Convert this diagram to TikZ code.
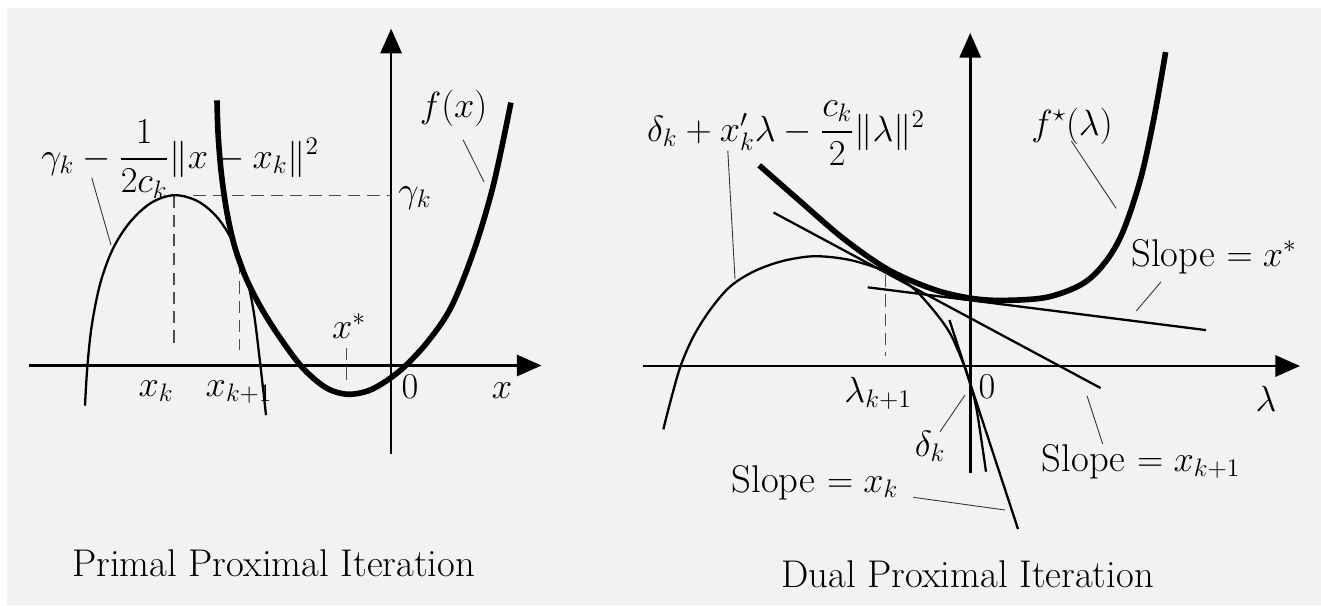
\documentclass[tikz,border=0pt]{standalone}
\usepackage{amsmath,amssymb}
\usepackage{tikz}
\usetikzlibrary{arrows.meta,positioning,calc}
\definecolor{proxBack}{HTML}{F2F2F2}
\definecolor{proxGuide}{HTML}{4D4D4D}
\definecolor{proxLead}{HTML}{333333}

\begin{document}
\begin{tikzpicture}[x=0.02cm,y=-0.02cm,font=\fontsize{20}{24}\selectfont,
  axisline/.style={line width=1.5pt,-{Triangle[length=14pt,width=12pt]}},
  thickcurve/.style={line width=3.2pt},
  thincurve/.style={line width=1.3pt},
  guideline/.style={draw=proxGuide,line width=0.7pt,dash pattern=on 7pt off 4pt},
  leaderline/.style={draw=proxLead,line width=0.5pt},
  lbl/.style={inner sep=0pt,anchor=base},
  txt/.style={lbl,font=\fontsize{22}{26}\selectfont}]
% background
\fill[white] (0,0) rectangle (1321,605);
\fill[proxBack] (7,8) rectangle (1321,605);

%% primal iteration
\draw[axisline] (28.7,365.5) -- (541.5,365.5);
\draw[axisline] (391.1,453.5) -- (391.1,28.7);
\coordinate (peakK) at (174.1,195.2);
\draw[guideline] (peakK) -- (391.1,195.2);
\draw[guideline] (peakK) -- (174.1,348);
\draw[guideline] (239.2,262) -- (239.2,350);
\draw[guideline] (346.3,348) -- (346.3,383);
\draw[thincurve] plot[smooth,tension=0.55] coordinates {(85,405.7) (87.3,367.4) (91.8,325.3)
  (100.3,283.2) (112.9,248.8) (130.1,222) (151.2,202.8) (174.1,195.2) (197.1,200.9)
  (216.2,216.2) (231.5,239.2) (244.9,271.7) (253.4,310) (260.2,363.6) (266,415.2)};
\draw[thickcurve] plot[smooth,tension=0.55] coordinates {(217,100.3) (218.1,134) (221.2,172.2)
  (226.6,210.5) (234.2,244.9) (244.9,275.5) (260.2,306.2) (279.4,336.8) (302.3,367.4)
  (325.3,387.3) (346.3,394.2) (367.4,391.1) (386.5,380.8) (405.7,365.5) (428.6,340.6)
  (451.6,306.2) (474.5,248.8) (493.7,183.7) (510.9,102.6)};
\node[lbl] (primalModel) at (180,168) {$\gamma_k-\dfrac{1}{2c_k}\|x-x_k\|^2$};
\node[lbl] (fx) at (453.6,117) {$f(x)$};
\node[lbl] (gammaK) at (415,202) {$\gamma_k$};
\node[lbl] (xk) at (156,396) {$x_k$};
\node[lbl] (xkNext) at (239,396) {$x_{k+1}$};
\node[lbl] (xStar) at (349,338.7) {$x^*$};
\node[lbl] (zeroP) at (410,398) {$0$};
\node[lbl] (xAxis) at (502,398) {$x$};
\node[txt] (primalCap) at (273.6,576) {Primal Proximal Iteration};
\coordinate (pmA) at (91.8,178); \coordinate (pmB) at (111,245);
\draw[leaderline] (pmA) -- (pmB);
\coordinate (fxA) at (463,139.7); \coordinate (fxB) at (484,181.8);
\draw[leaderline] (fxA) -- (fxB);

%% dual iteration
\draw[axisline] (642.5,366) -- (1300,366);
\draw[axisline] (970.2,473) -- (970.2,33);
\draw[guideline] (885.5,275) -- (885.5,356);
\draw[thincurve] (773.5,212.5) -- (1100.5,388);
\draw[thincurve] (867.7,287.3) -- (1206,330.1);
\draw[thincurve] (949.4,320) -- (1018,529);
\draw[thincurve] plot[smooth,tension=0.55] coordinates {(663.3,429.3) (671.7,396.7)
  (680.7,365.7) (693.3,336.7) (710,310) (730,286.7) (753.3,271.7) (780,261.7)
  (806.7,256.7) (826.7,256.7) (850,260) (873.3,266.7) (893.3,275) (913.3,288.3)
  (933.3,310) (950,333.3) (963.3,363.3) (970,383.3) (976.7,410) (986,471.7)};
\draw[thickcurve] plot[smooth,tension=0.55] coordinates {(759.2,165.3) (799.6,200.8)
  (844.5,239.4) (889.4,270.3) (934.3,289.6) (970.2,298.1) (1001.7,300.4) (1046.6,297.3)
  (1082.5,283.8) (1105,262.5) (1122.9,231.7) (1140.9,177.6) (1154.4,115.8) (1165.6,52.1)};
\node[lbl] (dualModel) at (786,141) {$\delta_k+x_k'\lambda-\dfrac{c_k}{2}\|\lambda\|^2$};
\node[lbl] (fStar) at (1072,135) {$f^\star(\lambda)$};
\node[txt] (slopeStar) at (1214,266) {Slope $=x^*$};
\node[lbl] (zeroD) at (987,398) {$0$};
\node[lbl] (lamAxis) at (1266,411) {$\lambda$};
\node[lbl] (lamNext) at (878,402) {$\lambda_{k+1}$};
\node[lbl] (deltaK) at (930,456) {$\delta_k$};
\node[txt] (slopeNext) at (1141,471) {Slope $=x_{k+1}$};
\node[txt] (slopeK) at (815,492) {Slope $=x_k$};
\node[txt] (dualCap) at (967.5,587) {Dual Proximal Iteration};
\coordinate (dmA) at (727.8,150.6); \coordinate (dmB) at (735,279);
\draw[leaderline] (dmA) -- (dmB);
\coordinate (fsA) at (1071.3,141); \coordinate (fsB) at (1116.2,208.5);
\draw[leaderline] (fsA) -- (fsB);
\coordinate (ssA) at (1161,281.9); \coordinate (ssB) at (1136.4,310.8);
\draw[leaderline] (ssA) -- (ssB);
\coordinate (dkA) at (940,431.7); \coordinate (dkB) at (965,395);
\draw[leaderline] (dkA) -- (dkB);
\coordinate (snA) at (1087,395.8); \coordinate (snB) at (1102.7,444);
\draw[leaderline] (snA) -- (snB);
\coordinate (skA) at (913.3,497.3); \coordinate (skB) at (1005,510);
\draw[leaderline] (skA) -- (skB);
\end{tikzpicture}
\end{document}
